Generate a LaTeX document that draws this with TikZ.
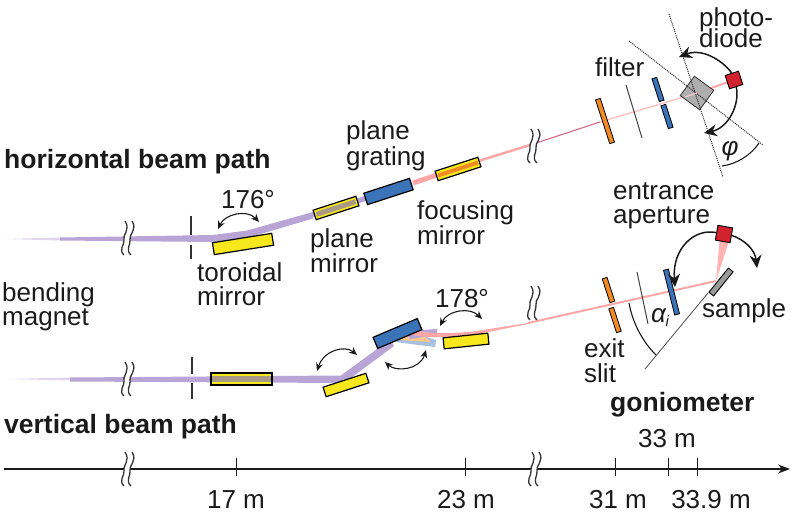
\documentclass[tikz,border=0pt]{standalone}
\usepackage{fontspec}
\setmainfont{Liberation Sans}
\usetikzlibrary{arrows.meta,calc}
\definecolor{beam}{HTML}{B9A4D6}
\definecolor{pinkb}{HTML}{FFA6A6}
\definecolor{darkb}{HTML}{D26A85}
\definecolor{ymir}{HTML}{F7E81E}
\definecolor{bmir}{HTML}{3A73B8}
\definecolor{omir}{HTML}{F08A24}
\definecolor{rdet}{HTML}{D1232F}
\definecolor{gsamp}{HTML}{9A9A9A}
\definecolor{ink}{HTML}{1A1A1A}
\definecolor{stripe}{HTML}{A89A86}
\tikzset{
 lab/.style={anchor=base west,inner sep=0pt,font=\fontsize{26}{28}\selectfont,text=ink},
 labc/.style={anchor=base,inner sep=0pt,font=\fontsize{26}{28}\selectfont,text=ink},
 blab/.style={anchor=base west,inner sep=0pt,font=\fontsize{26.5}{28}\selectfont\bfseries,text=ink},
 mir/.style={draw=black,line width=1.2pt,inner sep=0pt,minimum height=11pt,minimum width=45pt},
 ymirror/.style={mir,fill=ymir},
 bmirror/.style={mir,fill=bmir,minimum width=48pt,minimum height=12pt},
 strp/.style={inner sep=0pt,minimum height=5pt},
 thin plate/.style={draw=black,line width=0.8pt,inner sep=0pt,minimum height=5pt},
 dotl/.style={densely dotted,line width=1pt,black!85},
 swing2/.style={{Stealth[length=8pt,width=7pt]}-{Stealth[length=8pt,width=7pt]},line width=1.1pt,ink},
 big/.style={-{Stealth[length=13pt,width=12pt]},line width=1.5pt,ink},
 stopb/.style={line width=2.4pt,black!80},
 brk/.pic={
  \fill[white] (2,-17) .. controls (8,-8) and (-2,-3) .. (0,2) .. controls (1,6) and (-5,12) .. (1,17) -- (-6,17) .. controls (-12,12) and (-5,6) .. (-6,2) .. controls (-8,-3) and (1,-8) .. (-5,-17) -- cycle;
  \draw[line width=1.3pt,black!80] (2,-17) .. controls (8,-8) and (-2,-3) .. (0,2) .. controls (1,6) and (-5,12) .. (1,17);
  \draw[line width=1.3pt,black!80] (-5,-17) .. controls (1,-8) and (-8,-3) .. (-6,2) .. controls (-5,6) and (-12,12) .. (-6,17);
 }
}
\begin{document}
\begin{tikzpicture}[x=1pt,y=-1pt]
\useasboundingbox (0,0) rectangle (795,525);
% ---- beam points
\coordinate (h0) at (5,239);
\coordinate (h1) at (213,238);
\coordinate (h2) at (247,234);
\coordinate (h3) at (313,215);
\coordinate (h4) at (367,198);
\coordinate (h5) at (413,183);
\coordinate (h6) at (530,145);
\coordinate (h7) at (600,122);
\coordinate (h8) at (697,93);
\coordinate (h9) at (734,80);
\coordinate (v0) at (8,379);
\coordinate (v6) at (528,323);
\coordinate (v7) at (716,281);
% ---- horizontal beam
\fill[beam!45] (h0) -- (60,237.5) -- (60,240.5) -- cycle;
\fill[beam] (60,237.5) -- (213,235) -- (247,230.5) -- (313,212) -- (313,218.5) -- (247,238) -- (213,242) -- (60,240.5) -- cycle;
\draw[beam,line width=5pt] (313,215) -- (h4);
\draw[pinkb,line width=5pt] (h5) -- (440,174);
\draw[pinkb,line width=2.5pt] (475,162) -- (h6);
\draw[darkb,line width=1.1pt] (h6) -- (h7);
\draw[pinkb!70,line width=1.4pt] (h7) -- (h8);
\draw[pinkb,line width=2pt] (h8) -- (h9);
% ---- vertical beam
\fill[beam!45] (v0) -- (70,377.5) -- (70,380.5) -- cycle;
\fill[beam] (70,377.5) -- (341,375.5) -- (390,339.5) -- (394,346) -- (344,383) -- (70,381.5) -- cycle;
\fill[bmir!45] (395,342) -- (435,347) -- (436,340) -- (410,332) -- cycle;
\fill[orange!45] (398,340) -- (431,342) -- (415,328) -- cycle;
\fill[beam] (405,331) -- (437,329) -- (437,335) -- (410,339) -- cycle;
\fill[pinkb] (412,329.5) .. controls (430,334) and (445,334) .. (473,331.5) -- (v6) -- (528,324) -- (473,335) .. controls (450,338) and (430,338) .. (412,335) -- cycle;
\draw[pinkb,line width=2pt] (v6) -- (v7);
\fill[pinkb!85] (719.5,241) -- (729,241) -- (v7) -- cycle;
% ---- breaks on beams
\path (130,238) pic {brk};
\path (130,379) pic {brk};
\path (536,146) pic {brk};
\path (536,303) pic {brk};
% ---- stops
\node[inner sep=0pt] (stopA) at (191,215) {};
\node[inner sep=0pt] (stopB) at (191,260) {};
\draw[stopb] (stopA) -- (191,235) (191,245) -- (stopB);
\node[inner sep=0pt] (stopC) at (192,356) {};
\node[inner sep=0pt] (stopD) at (192,400) {};
\draw[stopb] (stopC) -- (192,374) (192,383) -- (stopD);
% ---- mirrors
\node[ymirror,minimum width=60pt,minimum height=12pt,rotate=9] (tor) at (243,244) {};
\node[ymirror,rotate=18,minimum height=10pt] (pm) at (336,208) {};
\node[strp,fill=stripe,minimum width=41pt,rotate=18] (pms) at (336,208) {};
\node[bmirror,rotate=18] (gr) at (388.5,191.5) {};
\node[ymirror,rotate=18,minimum height=10pt] (fm) at (458,169) {};
\node[strp,fill=omir,minimum width=42pt,minimum height=4pt,rotate=18] (fms) at (458,169) {};
\node[ymirror,minimum width=61pt,minimum height=12pt] (torv) at (241.5,379) {};
\node[strp,fill=stripe,minimum width=59pt,minimum height=6pt] (torvs) at (241.5,379) {};
\node[ymirror,rotate=18,minimum height=10pt] (pmv) at (346,385) {};
\node[bmirror,rotate=23] (grv) at (397.5,333.5) {};
\node[ymirror,rotate=6] (fmv) at (466,341) {};
% ---- upper end station
\node[thin plate,fill=omir,minimum width=46pt,rotate=-72] (o1) at (605,121) {};
\coordinate (f1) at (626,85); \coordinate (f2) at (642,138);
\draw[line width=1pt,black!75] (f1) -- (f2);
\node[thin plate,fill=bmir,minimum width=24pt,rotate=-72] (bl1) at (658,89.5) {};
\node[thin plate,fill=bmir,minimum width=24pt,rotate=-72] (bl2) at (667,116.5) {};
\node[draw=black!80,fill=gsamp!80,line width=0.8pt,minimum size=24pt,inner sep=0pt,rotate=-36] (cube) at (h8) {};
\coordinate (d1) at (669,14); \coordinate (d2) at (723,177);
\coordinate (d3) at (629,41); \coordinate (d4) at (763,145);
\draw[dotl] (d1) -- (d2);
\draw[dotl] (d3) -- (d4);
\draw[pinkb!60,line width=1.2pt] (685,97) -- (h8);
\node[draw=black,fill=rdet,line width=0.9pt,minimum size=14pt,inner sep=0pt,rotate=18] (det) at (h9) {};
\draw[big] (det.north) .. controls (722,60) and (702,48) .. (679,57);
\draw[big] (det.south) .. controls (740,105) and (728,128) .. (704,133);
\coordinate (ph1) at (722,166); \coordinate (ph2) at (759,143);
\draw[line width=1.1pt,ink] (ph1) .. controls (737,164) and (751,155) .. (ph2);
% ---- lower end station
\node[thin plate,fill=omir,minimum width=25pt,rotate=-72] (o2) at (608.5,290) {};
\node[thin plate,fill=omir,minimum width=25pt,rotate=-72] (o3) at (615,320) {};
\coordinate (g1) at (637,272); \coordinate (g2) at (648,324);
\draw[line width=1pt,black!75] (g1) -- (g2);
\node[thin plate,fill=bmir,minimum width=46pt,rotate=-76] (bl3) at (671.5,292) {};
\node[draw=black,fill=gsamp,line width=0.9pt,minimum width=31pt,minimum height=6pt,inner sep=0pt,rotate=51] (samp) at (721,282) {};
\coordinate (s1) at (708,293); \coordinate (s2) at (645,369);
\draw[line width=0.8pt,black!70] (s1) -- (s2);
\coordinate (a1) at (629,303); \coordinate (a2) at (656,355);
\draw[line width=1.1pt,ink] (a1) .. controls (633,325) and (644,343) .. (a2);
\node[draw=black,fill=rdet,line width=0.9pt,minimum size=15pt,inner sep=0pt,rotate=-10] (det2) at (724,234) {};
\draw[big] (det2.west) .. controls (695,228) and (672,248) .. (675,287);
\draw[big] (det2.east) .. controls (745,240) and (755,250) .. (757,268);
% ---- swing arrows
\coordinate (t1) at (218,229); \coordinate (t2) at (259,222);
\draw[swing2] (t1) .. controls (225,214) and (247,209) .. (t2);
\coordinate (u1) at (440,326); \coordinate (u2) at (482,319);
\draw[swing2] (u1) .. controls (448,310) and (470,307) .. (u2);
\coordinate (w1) at (385,362); \coordinate (w2) at (426,350);
\draw[swing2] (w1) .. controls (396,372) and (420,370) .. (w2);
\coordinate (z1) at (317,371); \coordinate (z2) at (357,355);
\draw[swing2] (z1) .. controls (324,350) and (345,345) .. (z2);
% ---- axis
\coordinate (ax0) at (4,469); \coordinate (ax1) at (790,469);
\draw[-{Stealth[length=12pt,width=9pt]},line width=1.1pt,ink] (ax0) -- (ax1);
\path (130,469) pic {brk};
\path (537,469) pic {brk};
\foreach \n/\x in {t17/236,t23/465,t31/615,t33/668,t339/697}{
  \coordinate (\n) at (\x,469);
  \draw[line width=0.9pt,ink] (\x,458) -- (\x,476);
}
\node[labc] (l17) at (236,508) {17 m};
\node[labc] (l23) at (466,508) {23 m};
\node[labc] (l31) at (618,508) {31 m};
\node[labc] (l33) at (667,447) {33 m};
\node[labc] (l339) at (711,508) {33.9 m};
% ---- labels
\node[blab] (hb) at (4,168) {horizontal beam path};
\node[blab] (vb) at (4,433) {vertical beam path};
\node[blab] (go) at (610,411) {goniometer};
\node[lab] at (346,139) {plane};
\node[lab] at (346,165) {grating};
\node[lab] at (417,219) {focusing};
\node[lab] at (417,244) {mirror};
\node[lab] at (310,247) {plane};
\node[lab] at (310,272) {mirror};
\node[lab] at (197,281) {toroidal};
\node[lab] at (197,305) {mirror};
\node[lab] at (2,301) {bending};
\node[lab] at (2,325) {magnet};
\node[labc] at (248,208) {176°};
\node[labc] at (462,307) {178°};
\node[lab] at (699,26) {photo-};
\node[lab] at (699,47) {diode};
\node[lab] at (595,76) {filter};
\node[lab] at (613,199) {entrance};
\node[lab] at (613,223) {aperture};
\node[lab] at (702,317) {sample};
\node[lab] at (584,357) {exit};
\node[lab] at (584,382) {slit};
\node[labc] at (730,155) {\itshape φ};
\node[labc] at (660,322) {\itshape α\kern-0.5pt\raisebox{-4pt}{\fontsize{15}{15}\selectfont i}};
\end{tikzpicture}
\end{document}
